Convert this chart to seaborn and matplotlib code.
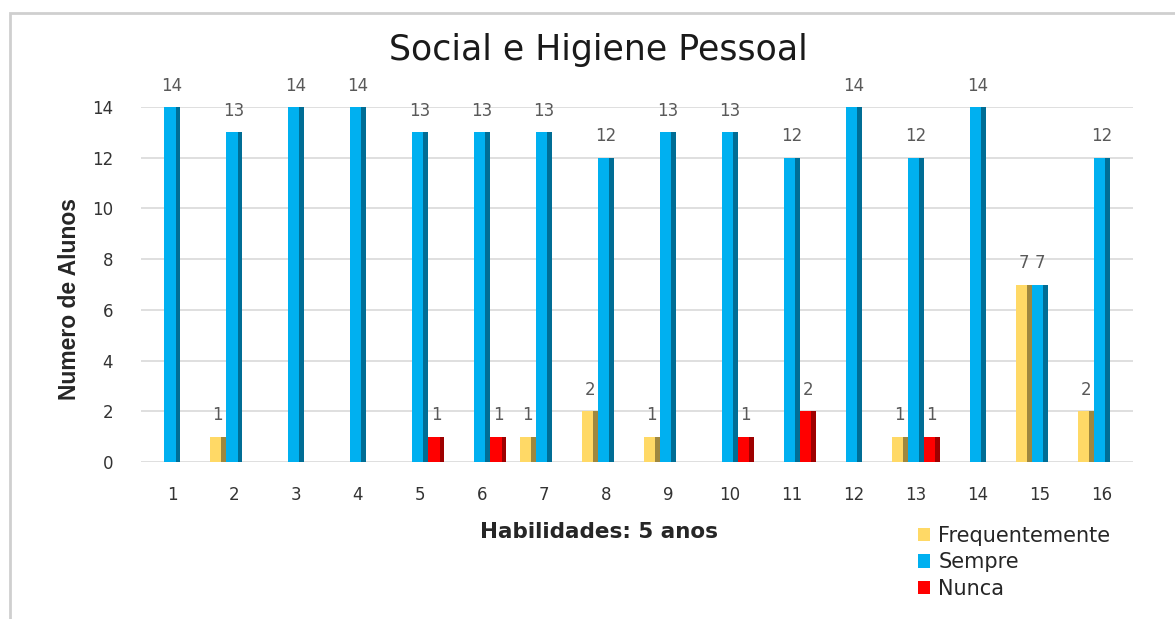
import numpy as np
import pandas as pd
import matplotlib
matplotlib.use("Agg")
import matplotlib.pyplot as plt
import matplotlib.colors as mcolors
from matplotlib.patches import Rectangle
import seaborn as sns

# Data
habilidades = [str(i) for i in range(1, 17)]
frequentemente = [0, 1, 0, 0, 0, 0, 1, 2, 1, 0, 0, 0, 1, 0, 7, 2]
sempre = [14, 13, 14, 14, 13, 13, 13, 12, 13, 13, 12, 14, 12, 14, 7, 12]
nunca = [0, 0, 0, 0, 1, 1, 0, 0, 0, 1, 2, 0, 1, 0, 0, 0]

series = ["Frequentemente", "Sempre", "Nunca"]
colors = ["#FFD966", "#00B0F0", "#FF0000"]

df = pd.DataFrame({
    "Habilidade": habilidades * 3,
    "Resposta": np.repeat(series, len(habilidades)),
    "Alunos": frequentemente + sempre + nunca,
})

sns.set_style("white")
plt.rcParams["font.family"] = ["DejaVu Sans"]

fig = plt.figure(figsize=(11.75, 6.19), dpi=100)
ax = fig.add_axes([0.12, 0.2536, 0.844, 0.5735])

sns.barplot(data=df, x="Habilidade", y="Alunos", hue="Resposta",
            hue_order=series, palette=colors, width=0.78, saturation=1,
            linewidth=0, legend=False, ax=ax)

# fake 3D side shading + value labels
for cont, col in zip(ax.containers, colors):
    dark = tuple(c * 0.62 for c in mcolors.to_rgb(col))
    for p in cont.patches:
        h = p.get_height()
        if h <= 0:
            continue
        w = p.get_width() * 0.28
        ax.add_patch(Rectangle((p.get_x() + p.get_width() - w, 0), w, h,
                               facecolor=dark, linewidth=0, zorder=p.get_zorder()))
    labels = [f"{v:g}" if v > 0 else "" for v in cont.datavalues]
    ax.bar_label(cont, labels=labels, padding=9, color="#595959", fontsize=12)

ax.set_ylim(0, 14)
ax.set_yticks(range(0, 15, 2))
ax.set_xlim(-0.5, len(habilidades) - 0.5)
ax.yaxis.grid(True, color="#d9d9d9", linewidth=1.2)
ax.set_axisbelow(True)
sns.despine(ax=ax, left=True, bottom=True)
ax.tick_params(axis="both", length=0, labelsize=12, colors="#333333")
ax.tick_params(axis="x", pad=17)
ax.tick_params(axis="y", pad=20)

ax.set_xlabel("Habilidades: 5 anos", fontsize=15.5, fontweight="bold",
              color="#262626")
ax.xaxis.set_label_coords(0.462, -0.17)
ax.set_ylabel("Numero de Alunos", fontsize=16.5, fontweight="bold",
              family=["Liberation Sans", "DejaVu Sans"])
ax.yaxis.set_label_coords(-0.061, 0.46)
fig.text(0.509, 0.919, "Social e Higiene Pessoal", ha="center", va="center",
         fontsize=25, color="#1a1a1a")

handles = [Rectangle((0, 0), 1, 1, facecolor=c, linewidth=0) for c in colors]
fig.legend(handles, series, loc="upper left", bbox_to_anchor=(0.772, 0.167),
           frameon=False, fontsize=15, handlelength=0.6, handleheight=0.6,
           handletextpad=0.4, labelspacing=0.3, borderpad=0)

# chart frame
fig.patches.append(Rectangle((10 / 1175, -0.05), 1.1, 1 - 13 / 619 + 0.05,
                             transform=fig.transFigure, fill=False,
                             edgecolor="#cfcfcf", linewidth=2, clip_on=False))

fig.savefig("out.png", dpi=100)
